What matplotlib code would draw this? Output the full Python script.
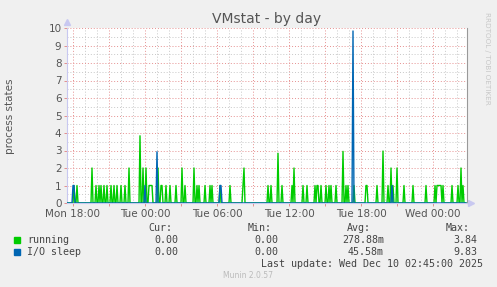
import matplotlib
matplotlib.use("Agg")
import matplotlib.pyplot as plt
import matplotlib.dates as mdates
from matplotlib.patches import Rectangle
import numpy as np
import pandas as pd

W, H = 497, 287

# 5-minute samples, Mon 17:30 -> Wed 02:50
start = "2025-12-08 17:30"
n_samples = 400

# non-zero samples (sample index, value); everything else is 0
running_idx = [7, 10, 25, 29, 32, 34, 37, 40, 44, 47, 50, 54, 58, 62, 73, 76, 79,
               82, 83, 84, 85, 91, 94, 95, 99, 103, 109, 115, 118, 127, 130, 132,
               138, 143, 145, 153, 163, 176, 177, 201, 204, 211, 215, 225, 227, 236,
               240, 248, 250, 251, 254, 259, 262, 264, 269, 276, 279, 281, 287, 299,
               300, 310, 316, 321, 324, 326, 330, 337, 346, 359, 368, 370, 371, 372,
               373, 374, 376, 385, 391, 394, 396]
running_val = [1, 1, 2, 1, 1, 1, 1, 1, 1, 1, 1, 1, 1, 2, 3.84, 2, 2,
               1, 1, 1, 1, 2, 1, 1, 1, 1, 1, 2, 1, 2, 1, 1,
               1, 1, 1, 1, 1, 1, 2, 1, 1, 2.84, 1, 1, 2, 1,
               1, 1, 1, 1, 1, 1, 1, 1, 1, 2.95, 1, 1, 1, 1,
               1, 1, 2.97, 1, 2, 1, 2, 1, 1, 1, 1, 1, 1, 1,
               1, 1, 1, 1, 1, 2, 1]
iosleep_idx = [6, 7, 78, 90, 153, 154, 286, 325]
iosleep_val = [1, 1, 1, 2.93, 1, 1, 9.83, 1]

times = pd.date_range(start, periods=n_samples, freq="5min")
running = np.zeros(n_samples)
running[running_idx] = running_val
iosleep = np.zeros(n_samples)
iosleep[iosleep_idx] = iosleep_val

bg = "#f0f0f0"
fig = plt.figure(figsize=(W / 100, H / 100), dpi=100, facecolor=bg)
ax = fig.add_axes([67 / W, 1 - 203 / H, 400 / W, 175 / H])
ax.set_facecolor("white")

ax.plot(times, running, color="#00cc00", lw=1.0, zorder=3)
ax.plot(times, iosleep, color="#0066b3", lw=1.0, zorder=4)

ax.set_xlim(times[0], times[0] + pd.Timedelta(minutes=5 * n_samples))
ax.set_ylim(0, 10)

ax.xaxis.set_major_locator(mdates.HourLocator(byhour=range(0, 24, 3)))
ax.xaxis.set_minor_locator(mdates.HourLocator())
ax.xaxis.set_major_formatter(plt.FuncFormatter(
    lambda v, p: mdates.num2date(v).strftime("%a %H:%M") if mdates.num2date(v).hour % 6 == 0 else ""))
ax.set_yticks(range(0, 11))
ax.set_yticks(np.arange(0.5, 10, 1), minor=True)

ax.grid(which="minor", color="#c8c8c8", ls=(0, (1, 2)), lw=0.7, zorder=1)
ax.grid(which="major", color="#e69090", ls=(0, (1, 2)), lw=0.7, zorder=1)

ax.tick_params(which="major", length=2, width=0.6, color="#e08080",
               labelsize=7.5, labelcolor="#555555", pad=2)
ax.tick_params(which="minor", length=0)

ax.spines["top"].set_visible(False)
ax.spines["left"].set_color("#c8c8f0")
ax.spines["bottom"].set_color("#c8c8f0")
ax.spines["right"].set_color("#999999")
for s in ax.spines.values():
    s.set_linewidth(0.8)

# axis arrows
ax.plot([0], [1.035], marker="^", ms=4, color="#c8c8f0", transform=ax.transAxes, clip_on=False)
ax.plot([1.01], [0], marker=">", ms=4, color="#c8c8f0", transform=ax.transAxes, clip_on=False)


def px(x, y):
    return x / W, 1 - y / H


fig.text(*px(10, 116), "process states", rotation=90, ha="center", va="center",
         fontsize=7.5, color="#555555")
fig.text(*px(267, 19), "VMstat - by day", ha="center", va="center",
         fontsize=10, color="#555555")
fig.text(*px(487, 58), "RRDTOOL / TOBI OETIKER", rotation=270, ha="center",
         va="center", fontsize=5.2, color="#c8c8c8")

mono = dict(family="DejaVu Sans Mono", fontsize=7.2, color="#444444", va="center")

for x, t in [(172, "Cur:"), (272, "Min:"), (371, "Avg:"), (470, "Max:")]:
    fig.text(*px(x, 228), t, ha="right", **mono)

rows = [
    ("running", "#00cc00", ["0.00", "0.00", "278.88m", "3.84"]),
    ("I/O sleep", "#0066b3", ["0.00", "0.00", "45.58m", "9.83"]),
]
for i, (name, col, vals) in enumerate(rows):
    y = 240 + 12 * i
    fig.add_artist(Rectangle(px(14, y + 3), 6 / W, 6 / H, color=col, transform=fig.transFigure))
    fig.text(*px(27, y), name, ha="left", **mono)
    for x, v in zip([178, 278, 384, 477], vals):
        fig.text(*px(x, y), v, ha="right", **mono)

fig.text(*px(483, 264), "Last update: Wed Dec 10 02:45:00 2025", ha="right", **mono)
fig.text(*px(248, 276), "Munin 2.0.57", ha="center", va="center", fontsize=5.5, color="#bbbbbb")

fig.savefig("out.png", dpi=100, facecolor=bg)
